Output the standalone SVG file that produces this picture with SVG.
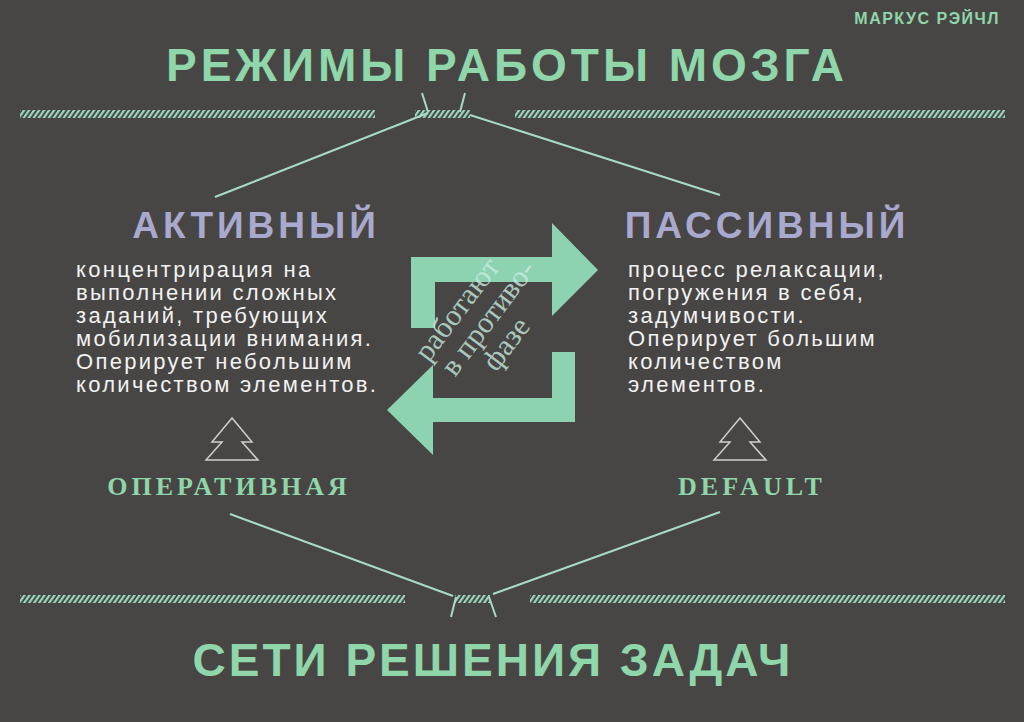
<svg xmlns="http://www.w3.org/2000/svg" width="1024" height="722" viewBox="0 0 1024 722">
<defs>
<pattern id="h" width="5" height="8" patternUnits="userSpaceOnUse" patternTransform="skewX(-35)">
<rect width="2.6" height="8" fill="#9cd9bd"/>
</pattern>
<style>
.g{fill:#8fd6aa}
.t{font-family:"Liberation Sans",Arial,sans-serif;font-weight:bold}
.s{font-family:"Liberation Serif","DejaVu Serif",serif;font-weight:bold;fill:#8fd6aa}
.b{font-family:"Liberation Sans",Arial,sans-serif;font-size:22px;fill:#f2f2f2;letter-spacing:2.3px}
.ln{stroke:#a7dcc3;stroke-width:2;fill:none}
.tr{stroke:#cfcfcf;stroke-width:1.5;fill:none}
</style>
</defs>
<rect width="1024" height="722" fill="#474644"/>
<text class="t" x="1000" y="24" font-size="16" text-anchor="end" fill="#8fd6aa" letter-spacing="1.5">МАРКУС РЭЙЧЛ</text>
<text class="t" x="507" y="81" font-size="46" text-anchor="middle" fill="#8fd6aa" letter-spacing="4">РЕЖИМЫ РАБОТЫ МОЗГА</text>
<g id="connectors">
<rect x="20" y="110" width="355" height="8" fill="url(#h)"/>
<rect x="415" y="110" width="55" height="8" fill="url(#h)"/>
<rect x="515" y="110" width="490" height="8" fill="url(#h)"/>
<rect x="20" y="595" width="385" height="8" fill="url(#h)"/>
<rect x="455" y="595" width="35" height="8" fill="url(#h)"/>
<rect x="530" y="595" width="475" height="8" fill="url(#h)"/>
<path class="ln" d="M422 93 L428 112 M465 93 L460 112 M428 113 L215 197 M470 115 L720 195"/>
<path class="ln" d="M230 514 L453 596 M720 512 L493 594 M456 597 L451 617 M489 597 L496 617"/>
</g>
<g id="active">
<text class="t" x="256" y="238" font-size="37" text-anchor="middle" fill="#a9a9cf" letter-spacing="4">АКТИВНЫЙ</text>
<text class="b" x="76" y="277">концентрирация на</text>
<text class="b" x="76" y="300">выполнении сложных</text>
<text class="b" x="76" y="323">заданий, требующих</text>
<text class="b" x="76" y="346">мобилизации внимания.</text>
<text class="b" x="76" y="369">Оперирует небольшим</text>
<text class="b" x="76" y="392">количеством элементов.</text>
</g>
<g id="passive">
<text class="t" x="767" y="238" font-size="37" text-anchor="middle" fill="#a9a9cf" letter-spacing="4">ПАССИВНЫЙ</text>
<text class="b" x="628" y="277">процесс релаксации,</text>
<text class="b" x="628" y="300">погружения в себя,</text>
<text class="b" x="628" y="323">задумчивости.</text>
<text class="b" x="628" y="346">Оперирует большим</text>
<text class="b" x="628" y="369">количеством</text>
<text class="b" x="628" y="392">элементов.</text>
</g>
<g id="cycle">
<path fill="#8dd3b2" d="M411 328 L411 257 L552 257 L552 223 L598 270 L552 316 L552 282 L435 282 L435 328 Z"/>
<path fill="#8dd3b2" d="M575 352 L575 422 L433 422 L433 455 L387 410 L433 365 L433 398 L552 398 L552 352 Z"/>
<g transform="translate(485,328) rotate(-53)" font-family="Liberation Serif,serif" font-size="30" fill="#c8ece0" fill-opacity="0.8" text-anchor="middle">
<text x="-2" y="-24">работают</text>
<text x="10" y="6">в противо-</text>
<text x="0" y="36">фазе</text>
</g>
</g>
<g id="trees">
<path class="tr" d="M232 418 L212 442 L222 442 L206 460 L258 460 L242 442 L252 442 Z"/>
<path class="tr" d="M740 418 L720 442 L730 442 L714 460 L766 460 L750 442 L760 442 Z"/>
</g>
<g id="operative"><text class="s" x="229" y="495" font-size="26" text-anchor="middle" letter-spacing="4">ОПЕРАТИВНАЯ</text></g>
<g id="default"><text class="s" x="752" y="495" font-size="26" text-anchor="middle" letter-spacing="4">DEFAULT</text></g>
<text class="t" x="493" y="676" font-size="46" text-anchor="middle" fill="#8fd6aa" letter-spacing="3">СЕТИ РЕШЕНИЯ ЗАДАЧ</text>
</svg>
